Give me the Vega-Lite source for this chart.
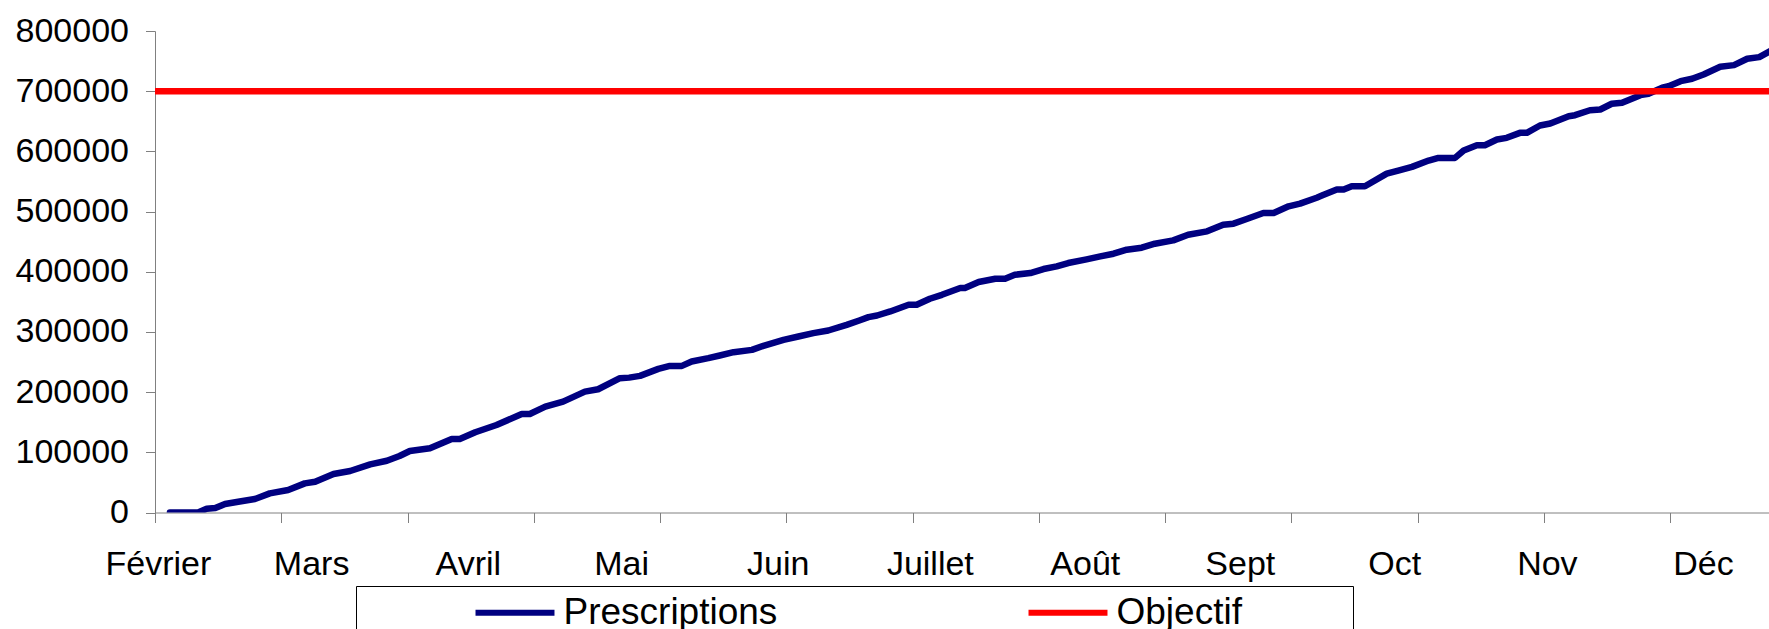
{
  "$schema": "https://vega.github.io/schema/vega-lite/v6.json",
  "width": 1614,
  "height": 481.5,
  "autosize": {"type": "none"},
  "padding": {"left": 155, "top": 31, "right": 0, "bottom": 116.5},
  "background": "white",
  "config": {"font": "Liberation Sans", "view": {"stroke": null}},
  "datasets": {
    "prescriptions": [
      {"jour": 2.6, "valeur": 0}, {"jour": 7.5, "valeur": 0}, {"jour": 9.0, "valeur": 6200}, {"jour": 10.5, "valeur": 7300},
      {"jour": 12.2, "valeur": 14000}, {"jour": 14.5, "valeur": 17800}, {"jour": 17.4, "valeur": 22300}, {"jour": 20.0, "valeur": 31800},
      {"jour": 23.2, "valeur": 37300}, {"jour": 26.1, "valeur": 48400}, {"jour": 27.9, "valeur": 51100}, {"jour": 31.1, "valeur": 63900},
      {"jour": 34.0, "valeur": 68900}, {"jour": 37.5, "valeur": 80000}, {"jour": 40.4, "valeur": 86000}, {"jour": 42.6, "valeur": 93800},
      {"jour": 44.4, "valeur": 102200}, {"jour": 47.9, "valeur": 106600}, {"jour": 51.7, "valeur": 122100}, {"jour": 53.1, "valeur": 122100},
      {"jour": 55.8, "valeur": 133300}, {"jour": 59.5, "valeur": 145400}, {"jour": 63.9, "valeur": 163700}, {"jour": 65.3, "valeur": 163700},
      {"jour": 68.0, "valeur": 175900}, {"jour": 71.1, "valeur": 184200}, {"jour": 74.9, "valeur": 200800}, {"jour": 77.2, "valeur": 204800},
      {"jour": 81.0, "valeur": 223100}, {"jour": 82.6, "valeur": 224100}, {"jour": 84.5, "valeur": 227000}, {"jour": 87.7, "valeur": 238600},
      {"jour": 89.7, "valeur": 243600}, {"jour": 91.8, "valeur": 243600}, {"jour": 93.5, "valeur": 250800}, {"jour": 96.4, "valeur": 256400},
      {"jour": 98.4, "valeur": 260800}, {"jour": 100.8, "valeur": 266400}, {"jour": 104.0, "valeur": 270200}, {"jour": 106.0, "valeur": 276900},
      {"jour": 109.5, "valeur": 286900}, {"jour": 112.1, "valeur": 292400}, {"jour": 114.7, "valeur": 298000}, {"jour": 117.3, "valeur": 302400},
      {"jour": 120.5, "valeur": 311800}, {"jour": 122.7, "valeur": 319000}, {"jour": 124.3, "valeur": 324600}, {"jour": 125.8, "valeur": 327300},
      {"jour": 128.1, "valeur": 334000}, {"jour": 131.3, "valeur": 345100}, {"jour": 132.7, "valeur": 345100}, {"jour": 135.0, "valeur": 355100},
      {"jour": 137.1, "valeur": 361700}, {"jour": 140.3, "valeur": 372900}, {"jour": 141.1, "valeur": 372900}, {"jour": 143.5, "valeur": 382900},
      {"jour": 146.4, "valeur": 388400}, {"jour": 148.1, "valeur": 388400}, {"jour": 149.8, "valeur": 395000}, {"jour": 152.5, "valeur": 397900},
      {"jour": 154.8, "valeur": 404500}, {"jour": 157.1, "valeur": 408900}, {"jour": 159.1, "valeur": 414500}, {"jour": 162.3, "valeur": 420500},
      {"jour": 164.7, "valeur": 425500}, {"jour": 167.0, "valeur": 430000}, {"jour": 169.3, "valeur": 436600}, {"jour": 171.9, "valeur": 440000},
      {"jour": 174.2, "valeur": 446600}, {"jour": 177.4, "valeur": 452100}, {"jour": 180.0, "valeur": 461600}, {"jour": 183.3, "valeur": 467100},
      {"jour": 186.1, "valeur": 478200}, {"jour": 187.9, "valeur": 479900}, {"jour": 190.2, "valeur": 487700}, {"jour": 193.1, "valeur": 497700},
      {"jour": 194.9, "valeur": 497700}, {"jour": 197.5, "valeur": 508700}, {"jour": 199.5, "valeur": 513200}, {"jour": 202.4, "valeur": 523000},
      {"jour": 203.3, "valeur": 526500}, {"jour": 205.9, "valeur": 536500}, {"jour": 207.1, "valeur": 536500}, {"jour": 208.5, "valeur": 542000},
      {"jour": 210.8, "valeur": 542000}, {"jour": 214.6, "valeur": 563100}, {"jour": 216.6, "valeur": 568100}, {"jour": 219.0, "valeur": 574200},
      {"jour": 221.9, "valeur": 584700}, {"jour": 223.6, "valeur": 589200}, {"jour": 226.5, "valeur": 589200}, {"jour": 228.0, "valeur": 601400},
      {"jour": 230.3, "valeur": 610200}, {"jour": 231.7, "valeur": 610200}, {"jour": 233.8, "valeur": 619700}, {"jour": 235.5, "valeur": 622500},
      {"jour": 237.8, "valeur": 630800}, {"jour": 239.0, "valeur": 630800}, {"jour": 241.3, "valeur": 643000}, {"jour": 243.1, "valeur": 646300},
      {"jour": 246.3, "valeur": 658500}, {"jour": 247.4, "valeur": 660100}, {"jour": 250.0, "valeur": 668400}, {"jour": 251.8, "valeur": 669600},
      {"jour": 253.8, "valeur": 679100}, {"jour": 255.6, "valeur": 680700}, {"jour": 258.8, "valeur": 693400}, {"jour": 260.2, "valeur": 695700},
      {"jour": 262.6, "valeur": 705700}, {"jour": 263.7, "valeur": 708400}, {"jour": 265.8, "valeur": 716700}, {"jour": 267.8, "valeur": 720700},
      {"jour": 269.8, "valeur": 727800}, {"jour": 272.7, "valeur": 740600}, {"jour": 275.1, "valeur": 743300}, {"jour": 277.4, "valeur": 753900},
      {"jour": 279.5, "valeur": 756600}, {"jour": 281.4, "valeur": 766600}
    ],
    "objectif": [
      {"jour": 0, "valeur": 700000}, {"jour": 281.2, "valeur": 700000}
    ]
  },
  "resolve": {"axis": {"x": "independent"}},
  "layer": [
    {
      "data": {"name": "prescriptions"},
      "transform": [{"calculate": "'Prescriptions'", "as": "serie"}],
      "mark": {"type": "line", "strokeWidth": 6.5, "strokeCap": "round", "strokeJoin": "round", "clip": true},
      "encoding": {
        "x": {
          "field": "jour", "type": "quantitative",
          "scale": {"domain": [0, 281.2], "nice": false, "zero": false},
          "axis": {
            "orient": "bottom", "title": null, "grid": false, "labels": false,
            "values": [0, 22, 44, 66, 88, 110, 132, 154, 176, 198, 220, 242, 264],
            "tickSize": 10, "tickColor": "#808080", "tickWidth": 1,
            "domainColor": "#808080", "domainWidth": 1
          }
        },
        "y": {
          "field": "valeur", "type": "quantitative",
          "scale": {"domain": [0, 800000], "nice": false},
          "axis": {
            "title": null, "grid": false, "format": "d",
            "values": [0, 100000, 200000, 300000, 400000, 500000, 600000, 700000, 800000],
            "labelFont": "Liberation Sans", "labelFontSize": 34, "labelColor": "black",
            "labelPadding": 17, "tickSize": 9.5, "tickColor": "#808080",
            "domainColor": "#808080", "labelOverlap": false
          }
        },
        "color": {
          "field": "serie", "type": "nominal",
          "scale": {"domain": ["Prescriptions", "Objectif"], "range": ["#000080", "#FF0000"]},
          "legend": {
            "orient": "none", "legendX": 201, "legendY": 555,
            "direction": "horizontal", "columns": 2,
            "title": "\u00a0", "titleOrient": "left", "titleFontSize": 1, "titlePadding": 112,
            "strokeColor": "black", "fillColor": "white", "padding": 8,
            "symbolType": "M-3,0H3", "symbolSize": 693, "symbolStrokeWidth": 6, "symbolOffset": 20.5,
            "labelFont": "Liberation Sans", "labelFontSize": 37, "labelColor": "black",
            "labelOffset": 30, "labelLimit": 0, "columnPadding": 238,
            "labelExpr": "datum.label == 'Objectif' ? 'Objectif\u00a0\u00a0\u00a0\u00a0\u00a0\u00a0\u00a0\u00a0\u00a0\u00a0\u200b' : datum.label"
          }
        }
      }
    },
    {
      "data": {"name": "objectif"},
      "transform": [{"calculate": "'Objectif'", "as": "serie"}],
      "mark": {"type": "line", "strokeWidth": 6.5, "clip": true},
      "encoding": {
        "x": {
          "field": "jour", "type": "quantitative",
          "axis": {
            "orient": "bottom", "title": null, "grid": false, "ticks": false, "domain": false,
            "tickSize": 0, "labelPadding": 35, "labelFlush": false, "labelOverlap": false,
            "values": [0.5, 27.2, 54.5, 81.2, 108.5, 135, 162, 189, 215.9, 242.5, 269.7],
            "labelExpr": "['Février','Mars','Avril','Mai','Juin','Juillet','Août','Sept','Oct','Nov','Déc'][floor((datum.value + 5) / 27)]",
            "labelFont": "Liberation Sans", "labelFontSize": 34, "labelColor": "black"
          }
        },
        "y": {"field": "valeur", "type": "quantitative"},
        "color": {"field": "serie", "type": "nominal"}
      }
    }
  ]
}
